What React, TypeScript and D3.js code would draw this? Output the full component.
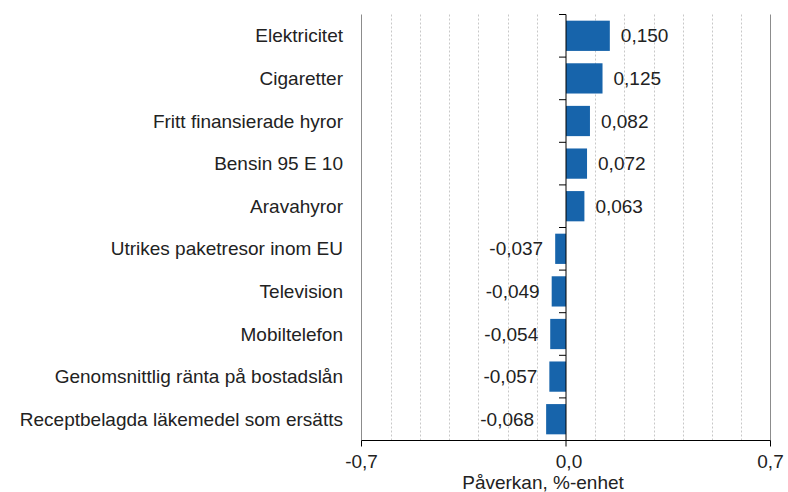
import React, { useRef, useEffect } from 'react';
import * as d3 from 'd3';

const categories = [
  'Elektricitet',
  'Cigaretter',
  'Fritt finansierade hyror',
  'Bensin 95 E 10',
  'Aravahyror',
  'Utrikes paketresor inom EU',
  'Television',
  'Mobiltelefon',
  'Genomsnittlig ränta på bostadslån',
  'Receptbelagda läkemedel som ersätts',
];
const values = [0.15, 0.125, 0.082, 0.072, 0.063, -0.037, -0.049, -0.054, -0.057, -0.068];
const xTicks = [-0.7, 0, 0.7];
const gridTicks = [-0.6, -0.5, -0.4, -0.3, -0.2, -0.1, 0.1, 0.2, 0.3, 0.4, 0.5, 0.6];
const axisTitle = 'Påverkan, %-enhet';

const fmt = (v: number, digits: number) => v.toFixed(digits).replace('.', ',');

const W = 788;
const H = 492;

const App = () => {
  const svgRef = useRef<SVGSVGElement>(null);

  useEffect(() => {
    const svg = d3.select(svgRef.current);
    svg.selectAll('*').remove();

    const top = 14.5;
    const bottom = 440.5;
    const x = d3.scaleLinear().domain([-0.7, 0.7]).range([361.5, 770.5]);
    const y = d3.scaleBand().domain(categories).range([top, bottom]).paddingInner(0.29).paddingOuter(0.145);
    const yb = d3.scaleBand().domain(categories).range([top, bottom]);

    const font = "Arial, 'Liberation Sans', sans-serif";
    const fs = 19;

    // dashed grid
    svg.append('g')
      .selectAll('line')
      .data(gridTicks)
      .enter().append('line')
      .attr('x1', d => Math.round(x(d)) + 0.5)
      .attr('x2', d => Math.round(x(d)) + 0.5)
      .attr('y1', top)
      .attr('y2', bottom)
      .attr('stroke', '#c8c8c8')
      .attr('stroke-dasharray', '2,2');

    // outer lines
    svg.append('g')
      .selectAll('line')
      .data([-0.7, 0.7])
      .enter().append('line')
      .attr('x1', d => x(d))
      .attr('x2', d => x(d))
      .attr('y1', top)
      .attr('y2', bottom)
      .attr('stroke', '#8c8c8c');

    // bars
    svg.append('g')
      .selectAll('rect')
      .data(values)
      .enter().append('rect')
      .attr('x', d => x(Math.min(0, d)))
      .attr('y', (d, i) => y(categories[i]))
      .attr('width', d => Math.abs(x(d) - x(0)))
      .attr('height', y.bandwidth())
      .attr('fill', '#1764ab');

    // value labels
    svg.append('g')
      .attr('font-family', font)
      .attr('font-size', fs)
      .attr('fill', '#222')
      .selectAll('text')
      .data(values)
      .enter().append('text')
      .attr('x', d => d >= 0 ? x(d) + 11 : x(d) - 12)
      .attr('y', (d, i) => y(categories[i]) + y.bandwidth() / 2)
      .attr('dy', '0.35em')
      .attr('text-anchor', d => d >= 0 ? 'start' : 'end')
      .text(d => fmt(d, 3));

    // category labels
    svg.append('g')
      .attr('font-family', font)
      .attr('font-size', fs)
      .attr('fill', '#222')
      .attr('text-anchor', 'end')
      .selectAll('text')
      .data(categories)
      .enter().append('text')
      .attr('x', 343)
      .attr('y', d => y(d) + y.bandwidth() / 2)
      .attr('dy', '0.35em')
      .text(d => d);

    // y axis at zero
    const yAxis = svg.append('g').attr('stroke', '#000');
    yAxis.append('line')
      .attr('x1', x(0)).attr('x2', x(0))
      .attr('y1', top).attr('y2', bottom);
    yAxis.selectAll('line.tick')
      .data(categories)
      .enter().append('line')
      .attr('class', 'tick')
      .attr('x1', x(0) - 7).attr('x2', x(0))
      .attr('y1', d => yb(d))
      .attr('y2', d => yb(d));

    // x axis
    const xAxis = svg.append('g').attr('stroke', '#000');
    xAxis.append('line')
      .attr('x1', x(-0.7)).attr('x2', x(0.7))
      .attr('y1', bottom).attr('y2', bottom);
    xAxis.selectAll('line.tick')
      .data(xTicks)
      .enter().append('line')
      .attr('class', 'tick')
      .attr('x1', d => x(d)).attr('x2', d => x(d))
      .attr('y1', bottom).attr('y2', bottom + 6);

    svg.append('g')
      .attr('font-family', font)
      .attr('font-size', fs)
      .attr('fill', '#222')
      .attr('text-anchor', 'middle')
      .selectAll('text')
      .data(xTicks)
      .enter().append('text')
      .attr('x', d => x(d) + (d === 0 ? 3 : 0))
      .attr('y', 468)
      .text(d => fmt(d, 1));

    svg.append('text')
      .attr('font-family', font)
      .attr('font-size', fs)
      .attr('fill', '#222')
      .attr('text-anchor', 'middle')
      .attr('x', 543)
      .attr('y', 489)
      .text(axisTitle);
  }, []);

  return (
    <svg ref={svgRef} width={W} height={H} style={{ position: 'absolute', left: 0, top: 0 }} />
  );
};

export default App;
